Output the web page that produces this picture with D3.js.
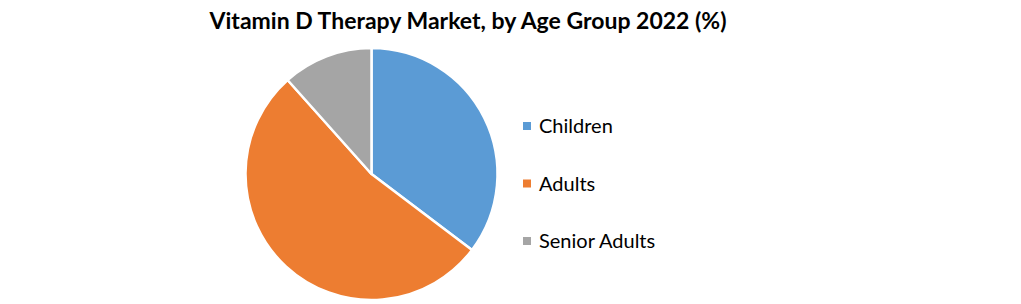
<!DOCTYPE html>
<html><head><meta charset="utf-8">
<script src="https://cdn.jsdelivr.net/npm/d3@7"></script>
<style>body{margin:0;background:#fff}svg{display:block}</style>
</head><body>
<svg id="c" width="1021" height="304"></svg>
<script>
const categories = ["Children", "Adults", "Senior Adults"];
const values = [35.3, 53.1, 11.6];
const colors = ["#5B9BD5", "#ED7D31", "#A5A5A5"];
const title = "Vitamin D Therapy Market, by Age Group 2022 (%)";

const svg = d3.select("#c");
const font = "Lato, 'Open Sans', sans-serif";
svg.append("text").attr("x", 468).attr("y", 29).attr("text-anchor", "middle")
  .attr("font-family", font).attr("font-weight", "bold").attr("font-size", 23)
  .attr("textLength", 517).attr("lengthAdjust", "spacingAndGlyphs")
  .attr("fill", "#000").text(title);

const cx = 371.5, cy = 174, r = 126;
const pie = d3.pie().sort(null).value(d => d)(values);
const arc = d3.arc().innerRadius(0).outerRadius(r);
const g = svg.append("g").attr("transform", `translate(${cx},${cy})`);
g.selectAll("path").data(pie).join("path")
  .attr("d", arc).attr("fill", (d, i) => colors[i])
  .attr("stroke", "#fff").attr("stroke-width", 2.5).attr("stroke-linejoin", "round");

const ly = d3.scalePoint().domain(categories).range([126, 241]);
const lg = svg.append("g");
categories.forEach((c, i) => {
  lg.append("rect").attr("x", 523).attr("y", ly(c) - 4).attr("width", 8).attr("height", 8).attr("fill", colors[i]);
  lg.append("text").attr("x", 539).attr("y", ly(c) + 7).attr("font-family", font)
    .attr("font-size", 20).attr("fill", "#000").text(c);
});
</script>
</body></html>
